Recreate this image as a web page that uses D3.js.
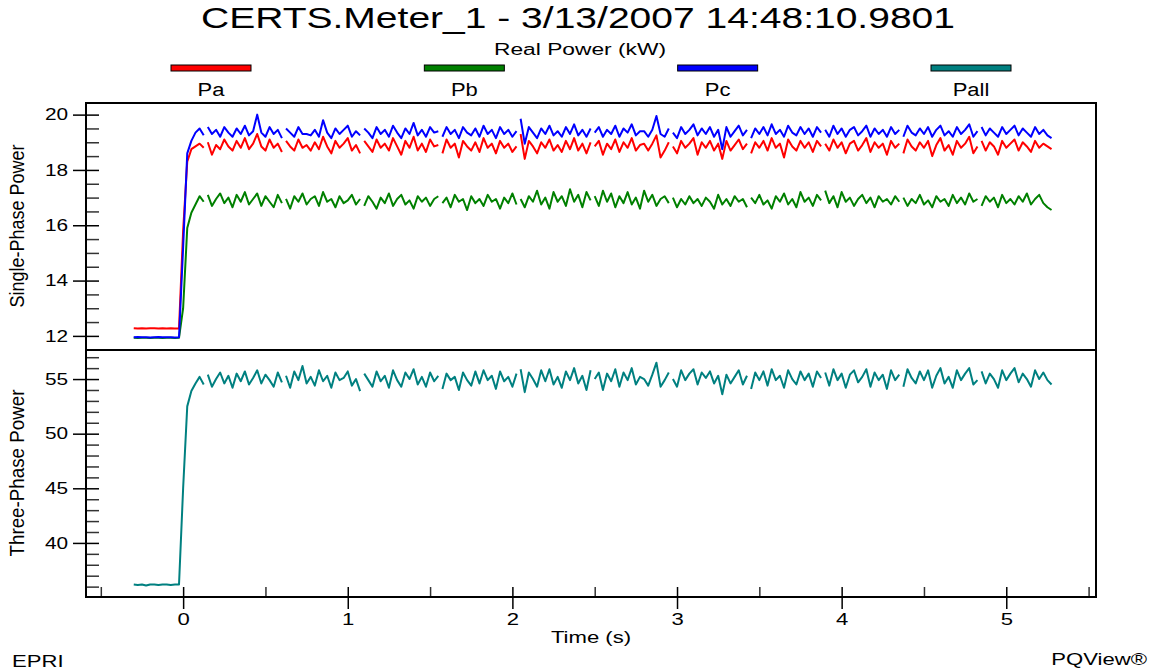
<!DOCTYPE html>
<html>
<head>
<meta charset="utf-8">
<script src="https://cdn.jsdelivr.net/npm/d3@7"></script>
<style>
body { margin: 0; background: #fff; }
svg { display: block; font-family: "Liberation Sans", Arial, sans-serif; }
</style>
</head>
<body>
<div id="chartDiv"></div>
<script>
// recording, sampled every 25 ms from -0.3 s
const startTime = -0.3
const sampleStep = 0.025
// the line is broken after these sample indices (record boundaries)
const segmentBreaks = [17, 36, 55, 74, 93, 111, 130, 149, 167, 186, 205]

const seriesNames = ["Pa", "Pb", "Pc", "Pall"]
const seriesColors = ["#ff0000", "#008000", "#0000ff", "#008080"]

const paValues = [
    12.28, 12.27, 12.28, 12.27, 12.28, 12.28, 12.27, 12.28, 12.27, 12.28, 12.27, 12.27,
    15.8, 18.3, 18.75,
    18.85, 18.95, 18.80, 19.00, 18.55, 18.90, 18.75, 19.10, 18.85, 18.70,
    19.05, 18.80, 19.15, 18.75, 18.95, 19.30, 18.85, 18.70, 19.10, 18.80,
    18.95, 18.65, 19.05, 18.85, 18.70, 19.10, 18.80, 18.90, 18.70, 19.00,
    18.75, 19.20, 18.85, 18.60, 19.05, 18.80, 18.95, 19.15, 18.70, 18.90,
    18.60, 19.05, 18.85, 18.65, 19.10, 18.80, 18.95, 18.70, 19.15, 18.85,
    18.55, 19.05, 18.80, 19.20, 18.70, 18.95, 18.65, 19.10, 18.85, 18.90,
    18.60, 19.10, 18.80, 18.95, 18.45, 19.05, 18.85, 18.70, 19.00, 18.65,
    19.15, 18.80, 18.95, 18.60, 19.05, 18.80, 18.95, 18.65, 18.85, 19.30,
    18.40, 19.05, 18.85, 18.60, 19.00, 18.80, 19.10, 18.70, 18.90, 18.65,
    19.05, 18.75, 19.15, 18.70, 18.95, 18.60, 19.00, 18.85, 19.05, 18.55,
    18.95, 18.75, 19.10, 18.65, 19.00, 18.80, 19.15, 18.70, 18.90, 18.95,
    18.70, 18.95, 19.25, 18.45, 18.70, 19.00, 18.85, 18.60, 19.05, 18.80,
    18.95, 19.15, 18.55, 19.00, 18.80, 19.05, 18.70, 18.95, 18.40, 19.05,
    18.70, 18.90, 19.10, 18.75, 18.95, 18.60, 19.00, 18.80, 19.05, 18.70,
    19.15, 18.80, 18.95, 18.45, 19.10, 18.85, 18.70, 19.05, 18.80, 19.00,
    18.65, 19.05, 18.85, 18.95, 18.70, 19.10, 18.80, 19.00, 18.60, 18.95,
    19.05, 18.70, 18.90, 19.15, 18.65, 19.00, 18.80, 18.95, 18.55, 19.05,
    18.80, 18.95, 18.60, 19.10, 18.85, 18.70, 19.00, 18.80, 19.05, 18.50,
    18.90, 19.15, 18.70, 18.90, 18.55, 19.05, 18.80, 18.95, 19.20, 18.60,
    18.85, 19.05, 18.70, 19.00, 18.85, 18.55, 19.05, 18.80, 18.95, 19.10,
    18.70, 19.00, 18.85, 18.65, 19.05, 18.80, 18.95, 18.85, 18.75
]

const pbValues = [
    11.93, 11.92, 11.93, 11.93, 11.92, 11.93, 11.93, 11.92, 11.93, 11.93, 11.92, 11.93,
    13.0, 15.9, 16.45,
    16.75, 17.05, 16.85, 17.10, 16.70, 16.95, 17.15, 16.80, 17.00, 16.65,
    17.10, 16.85, 17.20, 16.75, 16.95, 17.15, 16.70, 17.05, 16.85, 16.65,
    17.10, 16.80, 16.95, 16.60, 17.05, 16.85, 17.15, 16.75, 16.95, 17.05,
    16.70, 17.20, 16.85, 16.95, 16.65, 17.05, 16.80, 16.90, 17.10, 16.75,
    16.95, 16.70, 17.05, 16.85, 16.60, 17.00, 16.80, 17.15, 16.70, 16.95,
    17.10, 16.75, 16.90, 16.60, 17.05, 16.85, 17.00, 16.70, 16.95, 17.05,
    16.80, 17.00, 16.65, 17.10, 16.85, 16.95, 16.55, 17.05, 16.80, 16.95,
    16.70, 17.10, 16.85, 16.95, 16.60, 17.00, 16.80, 17.15, 16.75, 16.95,
    16.65, 17.05, 16.85, 17.25, 16.75, 17.00, 16.60, 17.20, 16.85, 17.05,
    16.70, 17.30, 16.85, 17.10, 16.65, 17.20, 16.90, 17.05, 16.70, 17.25,
    16.85, 17.15, 16.65, 17.05, 16.80, 17.20, 16.75, 17.00, 16.60, 17.25,
    16.85, 17.10, 16.70, 16.95, 17.05, 16.80, 17.00, 16.65, 16.95, 16.75,
    17.05, 16.80, 16.95, 16.70, 17.00, 16.85, 16.60, 17.10, 16.75, 16.95,
    16.70, 17.05, 16.85, 16.95, 16.65, 17.00, 16.80, 17.10, 16.75, 16.90,
    16.60, 17.05, 16.85, 17.15, 16.75, 16.95, 16.65, 17.20, 16.85, 17.00,
    16.70, 17.10, 16.90, 17.25, 16.80, 17.05, 16.65, 17.20, 16.85, 17.00,
    16.70, 16.95, 17.10, 16.80, 17.00, 16.65, 17.05, 16.85, 16.95, 16.75,
    17.05, 16.85, 17.00, 16.70, 16.95, 16.80, 17.10, 16.75, 16.90, 16.65,
    17.05, 16.85, 16.95, 16.70, 17.10, 16.80, 17.00, 16.75, 17.15, 16.85,
    16.95, 16.70, 17.05, 16.85, 17.00, 16.65, 17.10, 16.80, 16.95, 16.75,
    17.05, 16.85, 17.15, 16.75, 16.95, 17.10, 16.80, 16.65, 16.55
]

const pcValues = [
    11.95, 11.96, 11.95, 11.95, 11.94, 11.95, 11.96, 11.95, 11.95, 11.95, 11.94, 11.95,
    15.2, 18.6, 19.05,
    19.35, 19.50, 19.25, 19.55, 19.30, 19.45, 19.20, 19.55, 19.35, 19.20,
    19.50, 19.30, 19.60, 19.25, 19.40, 20.00, 19.35, 19.20, 19.55, 19.30,
    19.45, 19.15, 19.50, 19.35, 19.20, 19.55, 19.30, 19.30, 19.25, 19.45,
    19.20, 19.80, 19.35, 19.15, 19.50, 19.30, 19.45, 19.60, 19.20, 19.40,
    19.25, 19.50, 19.35, 19.15, 19.55, 19.30, 19.45, 19.20, 19.60, 19.35,
    19.15, 19.50, 19.30, 19.70, 19.25, 19.45, 19.20, 19.55, 19.35, 19.40,
    19.20, 19.55, 19.30, 19.45, 19.15, 19.55, 19.35, 19.25, 19.50, 19.20,
    19.60, 19.30, 19.45, 19.15, 19.55, 19.30, 19.45, 19.20, 19.40, 19.85,
    18.95, 19.55, 19.35, 19.15, 19.50, 19.30, 19.60, 19.25, 19.40, 19.20,
    19.55, 19.30, 19.65, 19.25, 19.45, 19.20, 19.50, 19.35, 19.55, 19.20,
    19.45, 19.30, 19.60, 19.20, 19.50, 19.35, 19.65, 19.25, 19.40, 19.40,
    19.20, 19.45, 19.95, 19.30, 19.20, 19.50, 19.35, 19.15, 19.55, 19.30,
    19.45, 19.65, 19.25, 19.50, 19.30, 19.55, 19.20, 19.45, 18.75, 19.55,
    19.20, 19.40, 19.60, 19.25, 19.45, 19.15, 19.50, 19.30, 19.55, 19.25,
    19.65, 19.30, 19.45, 19.20, 19.60, 19.35, 19.25, 19.55, 19.30, 19.50,
    19.20, 19.55, 19.35, 19.45, 19.20, 19.60, 19.30, 19.50, 19.20, 19.45,
    19.55, 19.25, 19.40, 19.60, 19.20, 19.50, 19.30, 19.45, 19.20, 19.55,
    19.30, 19.45, 19.20, 19.60, 19.35, 19.25, 19.50, 19.30, 19.55, 19.20,
    19.45, 19.60, 19.25, 19.40, 19.20, 19.55, 19.30, 19.45, 19.65, 19.20,
    19.40, 19.55, 19.25, 19.50, 19.35, 19.20, 19.55, 19.30, 19.45, 19.60,
    19.25, 19.50, 19.35, 19.20, 19.55, 19.30, 19.45, 19.25, 19.15
]

const pallValues = [
    36.2, 36.15, 36.2, 36.1, 36.2, 36.2, 36.15, 36.2, 36.2, 36.15, 36.2, 36.2,
    45.0, 52.5, 53.9,
    54.6, 55.2, 54.5, 55.4, 54.3, 55.0, 55.6, 54.6, 55.3, 54.2,
    55.5, 54.8, 55.7, 54.5, 55.1, 55.8, 54.6, 55.4, 54.9, 54.3,
    55.6, 54.7, 55.3, 54.2, 55.7, 54.9, 56.2, 54.6, 55.2, 54.4,
    55.8, 54.8, 55.3, 54.2, 55.6, 54.9, 55.1, 55.7, 54.4, 55.0,
    53.9, 55.5, 54.9, 54.3, 55.7, 54.8, 55.3, 54.2, 55.8, 54.9,
    54.3, 55.6, 55.0, 55.9, 54.5, 55.2, 54.3, 55.6, 54.8, 55.3,
    54.1, 55.5, 54.9, 55.2, 54.0, 55.6, 54.9, 54.4, 55.7, 54.6,
    55.8, 54.9, 55.3, 54.1, 55.7, 54.8, 55.2, 54.3, 55.5, 55.9,
    53.8, 55.6, 55.0, 54.3, 55.8, 54.8, 55.9, 54.5, 55.2, 54.2,
    55.7, 54.9, 56.0, 54.6, 55.3, 54.0, 55.8, 55.0, 55.6, 54.0,
    55.5, 54.8, 55.9, 54.3, 55.6, 54.9, 56.0, 54.5, 55.2, 55.0,
    54.4, 55.4, 56.5, 54.3, 54.9, 55.6, 55.0, 54.3, 55.8, 54.9,
    55.5, 55.9, 54.5, 55.6, 55.1, 55.7, 54.6, 55.3, 53.6, 55.4,
    54.6, 55.2, 55.8, 54.5, 55.3, 54.1, 55.6, 54.9, 55.7, 54.4,
    55.9, 54.9, 55.3, 54.2, 55.8, 55.0, 54.5, 55.7, 54.9, 55.5,
    54.3, 55.7, 55.1, 55.6, 54.4, 55.9, 54.9, 55.5, 54.2, 55.4,
    55.8, 54.7, 55.2, 55.9, 54.3, 55.6, 54.9, 55.4, 54.1, 55.8,
    54.9, 55.4, 54.3, 55.9, 55.1, 54.6, 55.7, 54.9, 55.8, 54.2,
    55.3, 56.0, 54.6, 55.2, 54.2, 55.8, 54.9, 55.5, 56.0, 54.5,
    54.9, 55.7, 54.6, 55.5, 55.0, 54.2, 55.8, 54.9, 55.5, 56.0,
    54.7, 55.5, 55.0, 54.3, 55.8, 55.0, 55.6, 54.9, 54.5
]

const xTicks = [0, 1, 2, 3, 4, 5]
const xMinorTicks = [-0.5, 0.5, 1.5, 2.5, 3.5, 4.5, 5.5]
const topTicks = [12, 14, 16, 18, 20]
const topMinorTicks = [11.5, 12.5, 13, 13.5, 14.5, 15, 15.5, 16.5, 17, 17.5, 18.5, 19, 19.5]
const bottomTicks = [40, 45, 50, 55]
const bottomMinorTicks = [36, 37, 38, 39, 41, 42, 43, 44, 46, 47, 48, 49, 51, 52, 53, 54, 56, 57]

const width = 1156
const height = 672
const plotLeft = 86
const plotRight = 1096
const topPanelTop = 103
const panelSplit = 350
const panelBottom = 597
const fontFamily = "'Liberation Sans', Arial, sans-serif"

const svg = d3.select("#chartDiv")
    .append("svg")
    .attr("width", width)
    .attr("height", height)

const xScale = d3.scaleLinear().domain([-0.59, 5.545]).range([plotLeft, plotRight])
const yTop = d3.scaleLinear().domain([11.49, 20.42]).range([panelSplit, topPanelTop])
const yBottom = d3.scaleLinear().domain([35.05, 57.66]).range([panelBottom, panelSplit])
const colorScale = d3.scaleOrdinal().domain(seriesNames).range(seriesColors)

// the reference text is drawn wide, so stretch glyphs horizontally
const widen = (sel, k) => sel.each(function () {
    const len = this.getComputedTextLength()
    d3.select(this).attr("textLength", len * k).attr("lengthAdjust", "spacingAndGlyphs")
})

const toSegments = (values) => {
    const segments = [[]]
    values.forEach((v, i) => {
        segments[segments.length - 1].push({ t: startTime + i * sampleStep, v: v })
        if (segmentBreaks.includes(i)) segments.push([])
    })
    return segments
}

const drawSeries = (values, name, yScale) => {
    const line = d3.line().x(d => xScale(d.t)).y(d => yScale(d.v))
    svg.append("g")
        .selectAll("path")
        .data(toSegments(values))
        .enter()
        .append("path")
        .attr("d", line)
        .attr("fill", "none")
        .attr("stroke", colorScale(name))
        .attr("stroke-width", 2)
        .attr("stroke-linejoin", "round")
}

drawSeries(paValues, "Pa", yTop)
drawSeries(pbValues, "Pb", yTop)
drawSeries(pcValues, "Pc", yTop)
drawSeries(pallValues, "Pall", yBottom)

// y axes: major ticks cross the axis, minor ticks point inward
const drawLeftAxis = (scale, major, minor) => {
    svg.append("g")
        .attr("transform", `translate(${plotLeft},0)`)
        .call(d3.axisLeft(scale).tickValues(minor).tickSize(-13).tickFormat(""))
        .call(g => g.select(".domain").remove())
        .call(g => g.selectAll(".tick line").attr("stroke", "#333").attr("stroke-width", 1.5))

    svg.append("g")
        .attr("transform", `translate(${plotLeft},0)`)
        .call(d3.axisLeft(scale).tickValues(major).tickSize(13).tickPadding(5).tickFormat(d3.format("d")))
        .attr("font-family", fontFamily)
        .attr("font-size", 16)
        .call(g => g.select(".domain").remove())
        .call(g => g.selectAll(".tick line").attr("x1", 13).attr("stroke", "#000").attr("stroke-width", 1.5))
        .call(g => g.selectAll(".tick text").attr("fill", "#000").call(widen, 1.3))
}

drawLeftAxis(yTop, topTicks, topMinorTicks)
drawLeftAxis(yBottom, bottomTicks, bottomMinorTicks)

svg.append("g")
    .attr("transform", `translate(0,${panelBottom})`)
    .call(d3.axisBottom(xScale).tickValues(xMinorTicks).tickSize(-10).tickFormat(""))
    .call(g => g.select(".domain").remove())
    .call(g => g.selectAll(".tick line").attr("stroke", "#333").attr("stroke-width", 1.5))

svg.append("g")
    .attr("transform", `translate(0,${panelBottom})`)
    .call(d3.axisBottom(xScale).tickValues(xTicks).tickSize(12).tickPadding(4).tickFormat(d3.format("d")))
    .attr("font-family", fontFamily)
    .attr("font-size", 17)
    .call(g => g.select(".domain").remove())
    .call(g => g.selectAll(".tick line").attr("y1", -10).attr("stroke", "#000").attr("stroke-width", 1.5))
    .call(g => g.selectAll(".tick text").attr("fill", "#000").call(widen, 1.3))

// panel frames
svg.append("rect")
    .attr("x", plotLeft)
    .attr("y", topPanelTop)
    .attr("width", plotRight - plotLeft)
    .attr("height", panelBottom - topPanelTop)
    .attr("fill", "none")
    .attr("stroke", "#000")
    .attr("stroke-width", 2)

svg.append("line")
    .attr("x1", plotLeft).attr("x2", plotRight)
    .attr("y1", panelSplit).attr("y2", panelSplit)
    .attr("stroke", "#000")
    .attr("stroke-width", 2)

// titles
svg.append("text")
    .attr("x", 578).attr("y", 28)
    .attr("text-anchor", "middle")
    .attr("font-family", fontFamily)
    .attr("font-size", 30)
    .attr("textLength", 754)
    .attr("lengthAdjust", "spacingAndGlyphs")
    .text("CERTS.Meter_1 - 3/13/2007 14:48:10.9801")

svg.append("text")
    .attr("x", 580).attr("y", 55)
    .attr("text-anchor", "middle")
    .attr("font-family", fontFamily)
    .attr("font-size", 16)
    .attr("textLength", 172)
    .attr("lengthAdjust", "spacingAndGlyphs")
    .text("Real Power (kW)")

// legend
const legendX = d3.scalePoint().domain(seriesNames).range([211, 971])
const legend = svg.append("g").selectAll("g")
    .data(seriesNames)
    .enter()
    .append("g")
    .attr("transform", d => `translate(${legendX(d)},0)`)

legend.append("rect")
    .attr("x", -40).attr("y", 65)
    .attr("width", 80).attr("height", 6)
    .attr("fill", d => colorScale(d))
    .attr("stroke", "#000")
    .attr("stroke-width", 1)

legend.append("text")
    .attr("y", 96)
    .attr("text-anchor", "middle")
    .attr("font-family", fontFamily)
    .attr("font-size", 18)
    .text(d => d)
    .call(widen, 1.22)

// axis titles
const yTitle = (label, cy, len) => {
    svg.append("text")
        .attr("transform", `translate(24,${cy}) rotate(-90) scale(1,1.3)`)
        .attr("text-anchor", "middle")
        .attr("font-family", fontFamily)
        .attr("font-size", 16)
        .attr("textLength", len)
        .attr("lengthAdjust", "spacingAndGlyphs")
        .text(label)
}
yTitle("Single-Phase Power", 226, 163)
yTitle("Three-Phase Power", 473, 167)

svg.append("text")
    .attr("x", 591).attr("y", 643)
    .attr("text-anchor", "middle")
    .attr("font-family", fontFamily)
    .attr("font-size", 17)
    .text("Time (s)")
    .call(widen, 1.3)

svg.append("text")
    .attr("x", 12).attr("y", 667)
    .attr("font-family", fontFamily)
    .attr("font-size", 17)
    .text("EPRI")
    .call(widen, 1.3)

svg.append("text")
    .attr("x", 1147).attr("y", 665)
    .attr("text-anchor", "end")
    .attr("font-family", fontFamily)
    .attr("font-size", 17)
    .text("PQView®")
    .call(widen, 1.3)
</script>
</body>
</html>
